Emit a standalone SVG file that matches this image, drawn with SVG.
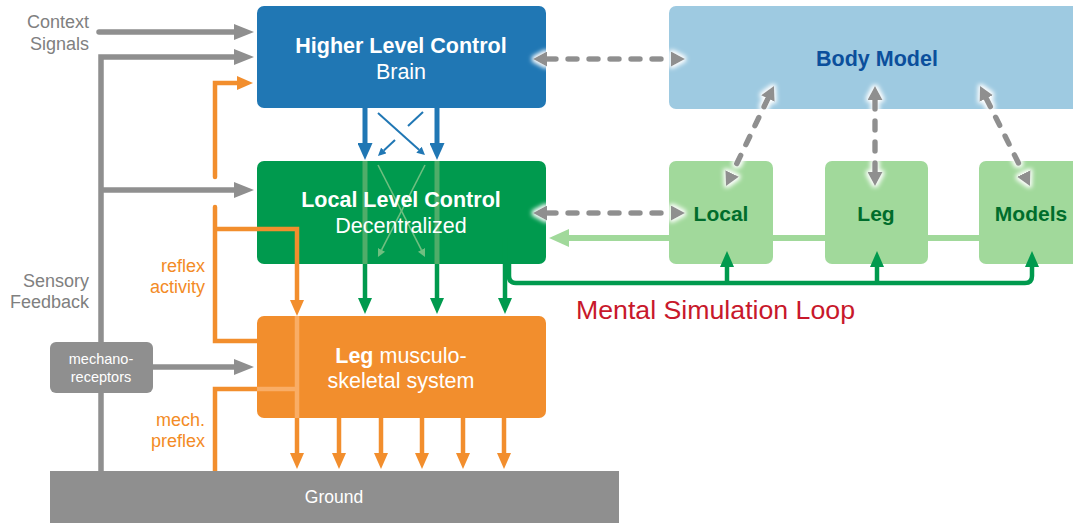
<svg xmlns="http://www.w3.org/2000/svg" width="1073" height="523" viewBox="0 0 1073 523">
  <defs>
    <style>
      .t { font-family: "Liberation Sans", Arial, sans-serif; }
      .b { font-weight: bold; }
      .lbl { font-size: 18px; fill: #808080; text-anchor: end; }
      .olbl { font-size: 18px; fill: #f38b26; text-anchor: end; }
      .box-txt { font-size: 21.5px; fill: #fff; text-anchor: middle; }
      .mdl-txt { font-size: 21px; fill: #006d2c; text-anchor: middle; font-weight: bold; }
      .gray { fill: none; stroke: #8f8f8f; stroke-width: 5.5; }
      .orange { fill: none; stroke: #f28e2d; stroke-width: 4.5; }
      .orange-lt { fill: none; stroke: #f9ad66; stroke-width: 4.5; }
      .blue { fill: none; stroke: #2077b4; stroke-width: 5; }
      .blue-thin { fill: none; stroke: #2077b4; stroke-width: 2; }
      .green { fill: none; stroke: #009a4e; stroke-width: 4.5; }
      .green-lt { fill: none; stroke: #4fad69; stroke-width: 5; }
      .green-thin { fill: none; stroke: #6fbf80; stroke-width: 1.6; }
      .pale { fill: none; stroke: #a1d99b; stroke-width: 6; }
      .dash { fill: none; stroke: #8f8f8f; stroke-width: 5.5; stroke-dasharray: 9 12; stroke-linecap: round; }
    </style>
    <marker id="ah-gray" markerUnits="userSpaceOnUse" viewBox="0 0 20 16" markerWidth="20" markerHeight="16" refX="0" refY="8" orient="auto-start-reverse">
      <path d="M0,0 L20,8 L0,16 z" fill="#8f8f8f"/>
    </marker>
    <marker id="ah-orange" markerUnits="userSpaceOnUse" viewBox="0 0 16 14" markerWidth="16" markerHeight="14" refX="0" refY="7" orient="auto">
      <path d="M0,0 L16,7 L0,14 z" fill="#f28e2d"/>
    </marker>
    <marker id="ah-blue" markerUnits="userSpaceOnUse" viewBox="0 0 17 15" markerWidth="17" markerHeight="15" refX="0" refY="7.5" orient="auto">
      <path d="M0,0 L17,7.5 L0,15 z" fill="#2077b4"/>
    </marker>
    <marker id="ah-blue-s" markerUnits="userSpaceOnUse" viewBox="0 0 8 8" markerWidth="8" markerHeight="8" refX="0" refY="4" orient="auto">
      <path d="M0,0 L8,4 L0,8 z" fill="#2077b4"/>
    </marker>
    <marker id="ah-green" markerUnits="userSpaceOnUse" viewBox="0 0 16 14" markerWidth="16" markerHeight="14" refX="0" refY="7" orient="auto">
      <path d="M0,0 L16,7 L0,14 z" fill="#009a4e"/>
    </marker>
    <marker id="ah-green-s" markerUnits="userSpaceOnUse" viewBox="0 0 8 8" markerWidth="8" markerHeight="8" refX="0" refY="4" orient="auto">
      <path d="M0,0 L8,4 L0,8 z" fill="#6fbf80"/>
    </marker>
    <marker id="ah-pale" markerUnits="userSpaceOnUse" viewBox="0 0 20 18" markerWidth="20" markerHeight="18" refX="0" refY="9" orient="auto">
      <path d="M0,0 L20,9 L0,18 z" fill="#a1d99b"/>
    </marker>
    <marker id="ah-dash" markerUnits="userSpaceOnUse" viewBox="0 0 14 15" markerWidth="14" markerHeight="15" refX="0" refY="7.5" orient="auto-start-reverse">
      <path d="M0,0 L14,7.5 L0,15 z" fill="#8f8f8f"/>
    </marker>
    <filter id="halo" filterUnits="userSpaceOnUse" x="0" y="0" width="1073" height="523">
      <feMorphology in="SourceAlpha" operator="dilate" radius="1.5" result="d"/>
      <feGaussianBlur in="d" stdDeviation="2" result="b"/>
      <feFlood flood-color="#ffffff"/>
      <feComposite in2="b" operator="in" result="g"/>
      <feMerge><feMergeNode in="g"/><feMergeNode in="SourceGraphic"/></feMerge>
    </filter>
  </defs>

  <rect width="1073" height="523" fill="#fff"/>

  <!-- side labels -->
  <g id="labels" class="t">
    <text class="lbl" x="89" y="28">Context</text>
    <text class="lbl" x="89" y="50">Signals</text>
    <text class="lbl" x="89" y="287">Sensory</text>
    <text class="lbl" x="89" y="308">Feedback</text>
    <text class="olbl" x="205" y="272">reflex</text>
    <text class="olbl" x="205" y="293">activity</text>
    <text class="olbl" x="205" y="426">mech.</text>
    <text class="olbl" x="205" y="447">preflex</text>
    <text x="576" y="319" font-size="25" fill="#c8182b" textLength="279" lengthAdjust="spacingAndGlyphs">Mental Simulation Loop</text>
  </g>

  <!-- nodes -->
  <g id="higher-level" class="t">
    <rect x="257" y="6" width="289" height="102" rx="7" fill="#2077b4"/>
    <text class="box-txt b" x="401" y="53">Higher Level Control</text>
    <text class="box-txt" x="401" y="79">Brain</text>
  </g>
  <g id="local-level" class="t">
    <rect x="257" y="161" width="289" height="103" rx="7" fill="#009a4e"/>
    <!-- brain commands showing through the box -->
    <path class="green-lt" d="M365,161 V264"/>
    <path class="green-lt" d="M437,161 V264"/>
    <path class="green-thin" d="M378,165 L421.4,249.9" marker-end="url(#ah-green-s)"/>
    <path class="green-thin" d="M425,165 L381.6,249.9" marker-end="url(#ah-green-s)"/>
    <text class="box-txt b" x="401" y="207">Local Level Control</text>
    <text class="box-txt" x="401" y="233">Decentralized</text>
  </g>
  <g id="leg" class="t">
    <rect x="257" y="316" width="289" height="102" rx="7" fill="#f28e2d"/>
    <text class="box-txt" x="401" y="363"><tspan font-weight="bold">Leg</tspan> musculo-</text>
    <text class="box-txt" x="401" y="388">skeletal system</text>
  </g>
  <g id="ground" class="t">
    <rect x="50" y="471" width="569" height="60" fill="#8f8f8f"/>
    <text x="334" y="503" font-size="17.5" fill="#fff" text-anchor="middle">Ground</text>
  </g>
  <g id="mechanoreceptors" class="t">
    <rect x="50" y="342" width="103" height="51" rx="6" fill="#8f8f8f"/>
    <text x="101" y="364" font-size="14.5" fill="#fff" text-anchor="middle">mechano-</text>
    <text x="101" y="382" font-size="14.5" fill="#fff" text-anchor="middle">receptors</text>
  </g>
  <g id="body-model" class="t">
    <rect x="669" y="6" width="420" height="103" rx="7" fill="#9ecae1"/>
    <text x="877" y="66" font-size="21.5" font-weight="bold" fill="#0b4f9c" text-anchor="middle">Body Model</text>
  </g>
  <g id="model-local" class="t">
    <rect x="669" y="161" width="104" height="103" rx="7" fill="#a1d99b"/>
    <text class="mdl-txt" x="721" y="221">Local</text>
  </g>
  <g id="model-leg" class="t">
    <rect x="825" y="161" width="103" height="103" rx="7" fill="#a1d99b"/>
    <text class="mdl-txt" x="876" y="221">Leg</text>
  </g>
  <g id="model-models" class="t">
    <rect x="979" y="161" width="110" height="103" rx="7" fill="#a1d99b"/>
    <text class="mdl-txt" x="1031" y="221">Models</text>
  </g>

  <!-- connectors -->
  <g id="connectors">
    <!-- context and sensory feedback -->
    <path class="gray" d="M99,32 H234" stroke-linecap="round" marker-end="url(#ah-gray)"/>
    <path class="gray" d="M101,471 V393"/>
    <path class="gray" d="M101,342 V57 H234" marker-end="url(#ah-gray)"/>
    <path class="gray" d="M101,190 H234" marker-end="url(#ah-gray)"/>
    <path class="gray" d="M153,367 H234" marker-end="url(#ah-gray)"/>

    <!-- reflex pathways -->
    <path class="orange" d="M215,177 V83 H237" stroke-linecap="round" marker-end="url(#ah-orange)"/>
    <path class="orange" d="M215,207 V341 H257" stroke-linecap="round"/>
    <path class="orange" d="M215,229 H297 V300" marker-end="url(#ah-orange)"/>
    <path class="orange" d="M215,471 V389 H257"/>
    <path class="orange-lt" d="M297,316 V418"/>
    <path class="orange-lt" d="M257,389 H297"/>
    <path class="orange" d="M297,418 V453" marker-end="url(#ah-orange)"/>
    <path class="orange" d="M339,418 V453" marker-end="url(#ah-orange)"/>
    <path class="orange" d="M381,418 V453" marker-end="url(#ah-orange)"/>
    <path class="orange" d="M422,418 V453" marker-end="url(#ah-orange)"/>
    <path class="orange" d="M463,418 V453" marker-end="url(#ah-orange)"/>
    <path class="orange" d="M504,418 V453" marker-end="url(#ah-orange)"/>

    <!-- brain to local control -->
    <path class="blue" d="M365,108 V143" marker-end="url(#ah-blue)"/>
    <path class="blue" d="M437,108 V143" marker-end="url(#ah-blue)"/>
    <path class="blue-thin" d="M378,113 L419,149.7" marker-end="url(#ah-blue-s)"/>
    <path class="blue-thin" d="M423,112 L408,126"/>
    <path class="blue-thin" d="M395,140 L383.8,150.5" marker-end="url(#ah-blue-s)"/>

    <!-- local control to leg -->
    <path class="green" d="M365,264 V298" marker-end="url(#ah-green)"/>
    <path class="green" d="M437,264 V298" marker-end="url(#ah-green)"/>
    <path class="green" d="M505,238 V298" marker-end="url(#ah-green)"/>

    <!-- mental simulation loop -->
    <path class="green" d="M509,262 V276 Q509,283 516,283 H1025 Q1032,283 1032,276 V267" marker-end="url(#ah-green)"/>
    <path class="green" d="M727,283 V267" marker-end="url(#ah-green)"/>
    <path class="green" d="M877,283 V267" marker-end="url(#ah-green)"/>
    <path class="pale" d="M1073,238 H569" marker-end="url(#ah-pale)"/>

    <!-- body model exchange -->
    <g filter="url(#halo)">
      <path class="dash" d="M547,59 H671" marker-start="url(#ah-dash)" marker-end="url(#ah-dash)"/>
      <path class="dash" d="M547,213 H671" marker-start="url(#ah-dash)" marker-end="url(#ah-dash)"/>
      <path class="dash" d="M767.9,98.6 L732.1,173.4" marker-start="url(#ah-dash)" marker-end="url(#ah-dash)"/>
      <path class="dash" d="M875,100 V172" marker-start="url(#ah-dash)" marker-end="url(#ah-dash)"/>
      <path class="dash" d="M986.3,98.5 L1023.7,173.5" marker-start="url(#ah-dash)" marker-end="url(#ah-dash)"/>
    </g>
  </g>
</svg>
